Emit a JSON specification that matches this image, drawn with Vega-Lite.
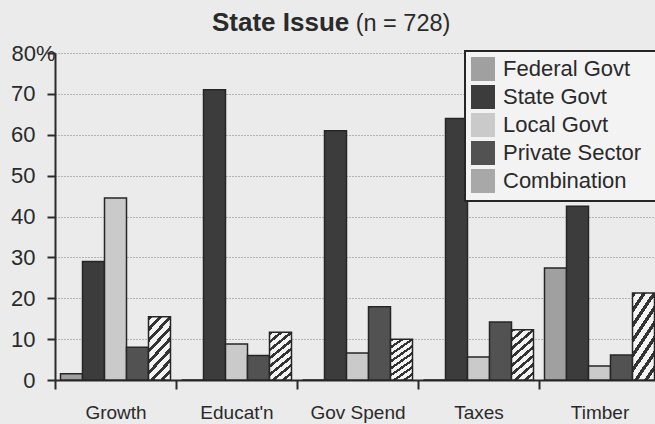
{
  "$schema": "https://vega.github.io/schema/vega-lite/v6.json",
  "width": 605,
  "height": 327,
  "padding": {"left": 5, "top": 10, "right": 0, "bottom": 5},
  "background": "#ebebeb",
  "title": {
    "text": "State Issue",
    "subtitle": "\u200b\u00a0\u00a0\u00a0\u00a0\u00a0\u00a0\u00a0\u00a0\u00a0\u00a0\u00a0\u00a0\u00a0\u00a0\u00a0\u00a0\u00a0\u00a0\u00a0\u00a0\u00a0\u00a0(n = 728)",
    "anchor": "start",
    "frame": "group",
    "dx": 157,
    "offset": 6,
    "font": "Liberation Sans",
    "fontSize": 26,
    "fontWeight": "bold",
    "color": "#2a2a2a",
    "subtitleFont": "Liberation Sans",
    "subtitleFontSize": 23.5,
    "subtitleColor": "#2a2a2a",
    "subtitlePadding": -24
  },
  "data": {
    "values": [
      {"issue": "Growth", "source": "Federal Govt", "pct": 1.5},
      {"issue": "Growth", "source": "State Govt", "pct": 29},
      {"issue": "Growth", "source": "Local Govt", "pct": 44.5},
      {"issue": "Growth", "source": "Private Sector", "pct": 8},
      {"issue": "Growth", "source": "Combination", "pct": 15.5},
      {"issue": "Educat'n", "source": "Federal Govt", "pct": 0},
      {"issue": "Educat'n", "source": "State Govt", "pct": 71},
      {"issue": "Educat'n", "source": "Local Govt", "pct": 8.8},
      {"issue": "Educat'n", "source": "Private Sector", "pct": 6},
      {"issue": "Educat'n", "source": "Combination", "pct": 11.7},
      {"issue": "Gov Spend", "source": "Federal Govt", "pct": 0},
      {"issue": "Gov Spend", "source": "State Govt", "pct": 61},
      {"issue": "Gov Spend", "source": "Local Govt", "pct": 6.6},
      {"issue": "Gov Spend", "source": "Private Sector", "pct": 17.9},
      {"issue": "Gov Spend", "source": "Combination", "pct": 10},
      {"issue": "Taxes", "source": "Federal Govt", "pct": 0},
      {"issue": "Taxes", "source": "State Govt", "pct": 64},
      {"issue": "Taxes", "source": "Local Govt", "pct": 5.6},
      {"issue": "Taxes", "source": "Private Sector", "pct": 14.2},
      {"issue": "Taxes", "source": "Combination", "pct": 12.3},
      {"issue": "Timber", "source": "Federal Govt", "pct": 27.4},
      {"issue": "Timber", "source": "State Govt", "pct": 42.5},
      {"issue": "Timber", "source": "Local Govt", "pct": 3.4},
      {"issue": "Timber", "source": "Private Sector", "pct": 6.1},
      {"issue": "Timber", "source": "Combination", "pct": 21.3}
    ]
  },
  "mark": {"type": "bar", "stroke": "#262626", "strokeWidth": 1.5},
  "encoding": {
    "x": {
      "field": "issue",
      "type": "nominal",
      "sort": ["Growth", "Educat'n", "Gov Spend", "Taxes", "Timber"],
      "scale": {"paddingInner": 0, "paddingOuter": 0},
      "axis": {
        "title": null,
        "labelAngle": 0,
        "labelFont": "Liberation Sans",
        "labelFontSize": 19,
        "labelColor": "#2a2a2a",
        "labelPadding": 14,
        "tickBand": "extent",
        "tickSize": 9,
        "tickWidth": 2,
        "tickColor": "#2a2a2a",
        "domainColor": "#2a2a2a",
        "domainWidth": 2,
        "grid": false
      }
    },
    "xOffset": {
      "field": "source",
      "sort": ["Federal Govt", "State Govt", "Local Govt", "Private Sector", "Combination"],
      "scale": {"paddingInner": 0, "paddingOuter": 0.25}
    },
    "y": {
      "field": "pct",
      "type": "quantitative",
      "scale": {"domain": [0, 80], "nice": false},
      "axis": {
        "title": null,
        "values": [0, 10, 20, 30, 40, 50, 60, 70, 80],
        "labelExpr": "datum.value == 80 ? '80%' : datum.label",
        "labelFont": "Liberation Sans",
        "labelFontSize": 22,
        "labelColor": "#2a2a2a",
        "labelPadding": {"condition": {"test": "datum.value == 80", "value": -8}, "value": 12},
        "tickSize": 8,
        "tickWidth": 2,
        "tickColor": "#2a2a2a",
        "domainColor": "#2a2a2a",
        "domainWidth": 2,
        "minExtent": 50,
        "maxExtent": 50,
        "grid": true,
        "gridColor": "#7a7a7a",
        "gridDash": [1, 2],
        "gridWidth": 1
      }
    },
    "fill": {
      "condition": {
        "test": "datum.source === 'Combination'",
        "value": {
          "gradient": "linear",
          "x1": 0, "y1": 0, "x2": 0.45, "y2": 1.2,
          "stops": [
            {"offset": 0, "color": "#333333"},
            {"offset": 0.05, "color": "#333333"},
            {"offset": 0.05, "color": "#f4f4f4"},
            {"offset": 0.125, "color": "#f4f4f4"},
            {"offset": 0.125, "color": "#333333"},
            {"offset": 0.175, "color": "#333333"},
            {"offset": 0.175, "color": "#f4f4f4"},
            {"offset": 0.25, "color": "#f4f4f4"},
            {"offset": 0.25, "color": "#333333"},
            {"offset": 0.3, "color": "#333333"},
            {"offset": 0.3, "color": "#f4f4f4"},
            {"offset": 0.375, "color": "#f4f4f4"},
            {"offset": 0.375, "color": "#333333"},
            {"offset": 0.425, "color": "#333333"},
            {"offset": 0.425, "color": "#f4f4f4"},
            {"offset": 0.5, "color": "#f4f4f4"},
            {"offset": 0.5, "color": "#333333"},
            {"offset": 0.55, "color": "#333333"},
            {"offset": 0.55, "color": "#f4f4f4"},
            {"offset": 0.625, "color": "#f4f4f4"},
            {"offset": 0.625, "color": "#333333"},
            {"offset": 0.675, "color": "#333333"},
            {"offset": 0.675, "color": "#f4f4f4"},
            {"offset": 0.75, "color": "#f4f4f4"},
            {"offset": 0.75, "color": "#333333"},
            {"offset": 0.8, "color": "#333333"},
            {"offset": 0.8, "color": "#f4f4f4"},
            {"offset": 0.875, "color": "#f4f4f4"},
            {"offset": 0.875, "color": "#333333"},
            {"offset": 0.925, "color": "#333333"},
            {"offset": 0.925, "color": "#f4f4f4"},
            {"offset": 1, "color": "#f4f4f4"}
          ]
        }
      },
      "field": "source",
      "type": "nominal",
      "sort": ["Federal Govt", "State Govt", "Local Govt", "Private Sector", "Combination"],
      "scale": {
        "domain": ["Federal Govt", "State Govt", "Local Govt", "Private Sector", "Combination"],
        "range": ["#a0a0a0", "#3c3c3c", "#cacaca", "#525252", "#a8a8a8"]
      },
      "legend": {
        "title": null,
        "orient": "none",
        "legendX": 410,
        "legendY": -2,
        "symbolType": "square",
        "symbolSize": 576,
        "symbolStrokeColor": "#262626",
        "symbolStrokeWidth": 1.5,
        "labelFont": "Liberation Sans",
        "labelFontSize": 22,
        "labelColor": "#2a2a2a",
        "labelLimit": 400,
        "labelOffset": 7,
        "labelExpr": "datum.label + '\u00a0\u00a0\u200b'",
        "rowPadding": -2,
        "padding": 5,
        "fillColor": "#f3f3f3",
        "strokeColor": "#262626",
        "encode": {
          "symbols": {
            "update": {
              "fill": {
                "signal": "datum.value === 'Combination' ? {gradient: 'linear', x1: 0, y1: 0, x2: 1, y2: 1, stops: [{offset: 0, color: '#333333'}, {offset: 0.08, color: '#333333'}, {offset: 0.08, color: '#f4f4f4'}, {offset: 0.2, color: '#f4f4f4'}, {offset: 0.2, color: '#333333'}, {offset: 0.28, color: '#333333'}, {offset: 0.28, color: '#f4f4f4'}, {offset: 0.4, color: '#f4f4f4'}, {offset: 0.4, color: '#333333'}, {offset: 0.48, color: '#333333'}, {offset: 0.48, color: '#f4f4f4'}, {offset: 0.6, color: '#f4f4f4'}, {offset: 0.6, color: '#333333'}, {offset: 0.68, color: '#333333'}, {offset: 0.68, color: '#f4f4f4'}, {offset: 0.8, color: '#f4f4f4'}, {offset: 0.8, color: '#333333'}, {offset: 0.88, color: '#333333'}, {offset: 0.88, color: '#f4f4f4'}, {offset: 1, color: '#f4f4f4'}]} : scale('fill', datum.value)"
              }
            }
          }
        }
      }
    }
  },
  "config": {
    "view": {"stroke": null},
    "legend": {"strokeWidth": 2}
  }
}
